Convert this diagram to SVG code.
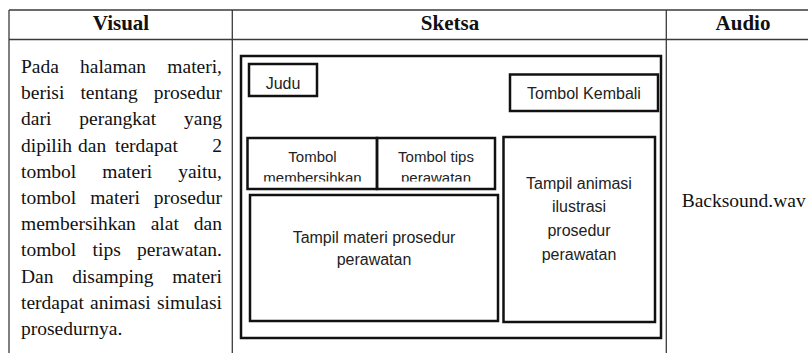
<svg xmlns="http://www.w3.org/2000/svg" width="808" height="353" viewBox="0 0 808 353">
<style>
.grid{stroke:#3a3a3a;stroke-width:1.3;fill:none}
.box{stroke:#111;stroke-width:2.5;fill:none}
.hd{font-family:"Liberation Serif","Times New Roman",serif;font-weight:bold;font-size:21px;fill:#111;text-anchor:middle}
.bd{font-family:"Liberation Serif","Times New Roman",serif;font-size:19.5px;fill:#111}
.e{text-anchor:end}
.sk{font-family:"Liberation Sans",Arial,sans-serif;font-size:16px;fill:#222;text-anchor:middle}
.sm{font-size:15px}
</style>
<defs>
<clipPath id="clipBtn"><rect x="248" y="139" width="247" height="42.5"/></clipPath>
</defs>
<rect width="808" height="353" fill="#fff"/>
<g id="table">
<line class="grid" x1="9" y1="10" x2="808" y2="10"/>
<line class="grid" x1="9" y1="39.5" x2="808" y2="39.5"/>
<line class="grid" x1="9" y1="10" x2="9" y2="353"/>
<line class="grid" x1="232.3" y1="10" x2="232.3" y2="353"/>
<line class="grid" x1="666.3" y1="10" x2="666.3" y2="353"/>
<text class="hd" x="121" y="30">Visual</text>
<text class="hd" x="450" y="30">Sketsa</text>
<text class="hd" x="743" y="30">Audio</text>
</g>
<g id="visual-text" class="bd">
<text y="73"><tspan x="21">Pada</tspan><tspan x="80">halaman</tspan><tspan x="222" class="e" text-anchor="end">materi,</tspan></text>
<text y="99.2"><tspan x="21">berisi</tspan><tspan x="80.4">tentang</tspan><tspan x="222" text-anchor="end">prosedur</tspan></text>
<text y="125.4"><tspan x="21">dari</tspan><tspan x="79.3">perangkat</tspan><tspan x="222" text-anchor="end">yang</tspan></text>
<text y="151.6"><tspan x="21">dipilih</tspan><tspan x="78">dan</tspan><tspan x="115">terdapat</tspan><tspan x="222" text-anchor="end">2</tspan></text>
<text y="177.8"><tspan x="21">tombol</tspan><tspan x="102.3">materi</tspan><tspan x="222" text-anchor="end">yaitu,</tspan></text>
<text y="204"><tspan x="21">tombol</tspan><tspan x="90.2">materi</tspan><tspan x="222" text-anchor="end">prosedur</tspan></text>
<text y="230.2"><tspan x="21">membersihkan</tspan><tspan x="150.7">alat</tspan><tspan x="222" text-anchor="end">dan</tspan></text>
<text y="256.4"><tspan x="21">tombol</tspan><tspan x="92.6">tips</tspan><tspan x="222" text-anchor="end">perawatan.</tspan></text>
<text y="282.6"><tspan x="21">Dan</tspan><tspan x="72.2">disamping</tspan><tspan x="222" text-anchor="end">materi</tspan></text>
<text y="308.8"><tspan x="21">terdapat</tspan><tspan x="90">animasi</tspan><tspan x="222" text-anchor="end">simulasi</tspan></text>
<text y="335" x="21">prosedurnya.</text>
</g>
<g id="sketch-frame">
<rect class="box" x="241" y="56" width="420" height="282"/>
</g>
<g id="node-judul">
<rect class="box" x="249" y="64" width="68" height="32"/>
<text class="sk" x="283" y="89">Judu</text>
</g>
<g id="node-kembali">
<rect class="box" x="510" y="74.5" width="148" height="36.5"/>
<text class="sk" x="584" y="99">Tombol Kembali</text>
</g>
<g id="node-tombol-membersihkan">
<rect class="box" x="247.5" y="138" width="129.5" height="51"/>
<g clip-path="url(#clipBtn)">
<text class="sk sm" x="312.5" y="161.5">Tombol</text>
<text class="sk sm" x="312.5" y="183">membersihkan</text>
</g>
</g>
<g id="node-tombol-tips">
<rect class="box" x="377" y="138" width="118" height="51"/>
<g clip-path="url(#clipBtn)">
<text class="sk sm" x="436" y="161.5">Tombol tips</text>
<text class="sk sm" x="436" y="183">perawatan</text>
</g>
</g>
<g id="node-materi">
<rect class="box" x="250" y="195" width="248" height="126"/>
<text class="sk" x="374" y="243.3">Tampil materi prosedur</text>
<text class="sk" x="374" y="265.3">perawatan</text>
</g>
<g id="node-animasi">
<rect class="box" x="503.5" y="137" width="151.5" height="185"/>
<text class="sk" x="579" y="188.8">Tampil animasi</text>
<text class="sk" x="579" y="212.4">ilustrasi</text>
<text class="sk" x="579" y="236">prosedur</text>
<text class="sk" x="579" y="259.6">perawatan</text>
</g>
<g id="audio-text">
<text class="bd" x="681.7" y="206.5">Backsound.wav</text>
</g>
</svg>
